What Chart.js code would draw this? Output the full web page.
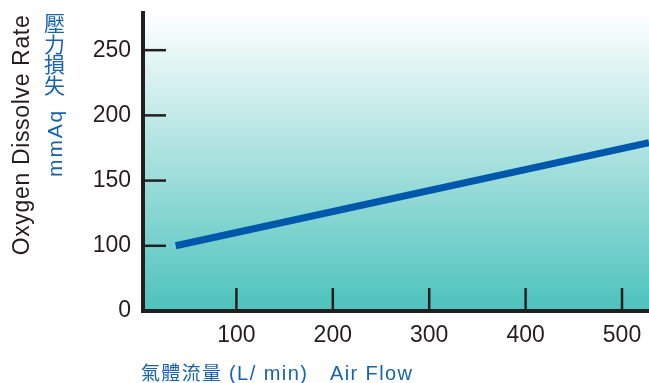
<!DOCTYPE html>
<html>
<head>
<meta charset="utf-8">
<script src="https://cdn.jsdelivr.net/npm/chart.js@4"></script>
<style>
  html, body { margin: 0; padding: 0; background: #fff; }
  #wrap { width: 649px; height: 383px; position: relative; }
</style>
</head>
<body>
<div id="wrap"><canvas id="chart"></canvas></div>
<script>
// values
var airFlow = [37, 528];          // L/min
var oxygenRate = [100, 179];      // mmAq (y axis is broken below 100)
var xTickValues = [100, 200, 300, 400, 500];
var yTickValues = [50, 100, 150, 200, 250];
var yTickLabels = ['0', '100', '150', '200', '250'];   // lowest tick stands for 0

var AXIS_COLOR = '#231f20';
var BLUE = '#1763b1';
var LINE_BLUE = '#0058ac';

// draws text, spreading letters to reach a given length
function fitText(ctx, text, x, y, len) {
  ctx.letterSpacing = '0px';
  var w = ctx.measureText(text).width;
  var sp = (len - w) / (text.length - 1);
  if (sp > 0) ctx.letterSpacing = sp + 'px';
  ctx.fillText(text, x, y);
  ctx.letterSpacing = '0px';
}

var backdrop = {
  id: 'backdrop',
  beforeDraw: function(chart) {
    var ctx = chart.ctx, a = chart.chartArea;
    var g = ctx.createLinearGradient(0, a.top, 0, a.bottom);
    g.addColorStop(0, '#ffffff');
    g.addColorStop(1, '#4dc2bc');
    ctx.save();
    ctx.fillStyle = g;
    ctx.fillRect(a.left, a.top, a.right - a.left, a.bottom - a.top);
    ctx.restore();
  },
  afterDraw: function(chart) {
    var ctx = chart.ctx, a = chart.chartArea;
    var xs = chart.scales.x, ys = chart.scales.y;
    ctx.save();
    // inward tick marks
    ctx.strokeStyle = AXIS_COLOR;
    ctx.lineWidth = 2.5;
    yTickValues.forEach(function(v) {
      if (v === ys.min) return;
      var py = ys.getPixelForValue(v);
      ctx.beginPath(); ctx.moveTo(a.left, py); ctx.lineTo(a.left + 23, py); ctx.stroke();
    });
    xTickValues.forEach(function(v) {
      var px = xs.getPixelForValue(v);
      ctx.beginPath(); ctx.moveTo(px, a.bottom); ctx.lineTo(px, a.bottom - 23); ctx.stroke();
    });
    // axes
    ctx.lineWidth = 4;
    ctx.lineCap = 'square';
    ctx.beginPath();
    ctx.moveTo(a.left, a.top);
    ctx.lineTo(a.left, a.bottom);
    ctx.lineTo(a.right + 4, a.bottom);
    ctx.stroke();
    ctx.lineCap = 'butt';

    // left titles
    ctx.fillStyle = AXIS_COLOR;
    ctx.font = '23px "Liberation Sans", Arial, sans-serif';
    ctx.textAlign = 'center';
    ctx.textBaseline = 'alphabetic';
    ctx.save();
    ctx.translate(29, 135);
    ctx.rotate(-Math.PI / 2);
    fitText(ctx, 'Oxygen Dissolve Rate', 0, 0, 240);
    ctx.restore();

    ctx.fillStyle = BLUE;
    ctx.font = '21px "Noto Sans CJK TC", sans-serif';
    ctx.textBaseline = 'middle';
    var cjk = ['壓', '力', '損', '失'];
    cjk.forEach(function(c, i) { ctx.fillText(c, 54.5, 23.5 + i * 20.5); });

    ctx.font = '21px "Liberation Sans", Arial, sans-serif';
    ctx.textBaseline = 'alphabetic';
    ctx.save();
    ctx.translate(62, 143);
    ctx.rotate(-Math.PI / 2);
    fitText(ctx, 'mmAq', 0, 0, 66);
    ctx.restore();

    // bottom title, in three pieces
    ctx.textAlign = 'left';
    ctx.font = '19px "Noto Sans CJK TC", sans-serif';
    fitText(ctx, '氣體流量', 141, 380, 80);
    ctx.font = '20px "Liberation Sans", sans-serif';
    fitText(ctx, '(L/ min)', 229, 380, 78);
    fitText(ctx, 'Air Flow', 330, 380, 82);
    ctx.restore();
  }
};

function noEdgePadding(s) {
  s.paddingTop = 0; s.paddingBottom = 0; s.paddingLeft = 0; s.paddingRight = 0;
}

var ctx = document.getElementById('chart').getContext('2d');
var chart = new Chart(ctx, {
  type: 'line',
  data: {
    datasets: [{
      data: airFlow.map(function(x, i) { return { x: x, y: oxygenRate[i] }; }),
      borderColor: LINE_BLUE,
      borderWidth: 7,
      pointRadius: 0,
      tension: 0,
      fill: false
    }]
  },
  options: {
    responsive: true,
    maintainAspectRatio: false,
    animation: false,
    layout: { padding: { top: 13, left: 0, right: 0, bottom: 0 } },
    plugins: { legend: { display: false }, tooltip: { enabled: false } },
    scales: {
      x: {
        type: 'linear',
        min: 3.1,
        max: 528,
        grid: { display: false, drawTicks: false },
        border: { display: false },
        afterBuildTicks: function(s) { s.ticks = xTickValues.map(function(v) { return { value: v }; }); },
        afterFit: function(s) { s.height = 72; noEdgePadding(s); },
        ticks: {
          padding: 11,
          color: AXIS_COLOR,
          font: { family: '"Liberation Sans", Arial, sans-serif', size: 23 },
          maxRotation: 0
        }
      },
      y: {
        type: 'linear',
        min: 50,
        max: 278.5,
        grid: { display: false, drawTicks: false },
        border: { display: false },
        afterBuildTicks: function(s) { s.ticks = yTickValues.map(function(v) { return { value: v }; }); },
        afterFit: function(s) { s.width = 143; noEdgePadding(s); },
        ticks: {
          padding: 12,
          color: AXIS_COLOR,
          font: { family: '"Liberation Sans", Arial, sans-serif', size: 23 },
          callback: function(v, i) { return yTickLabels[i]; }
        }
      }
    }
  },
  plugins: [backdrop]
});
</script>
</body>
</html>
